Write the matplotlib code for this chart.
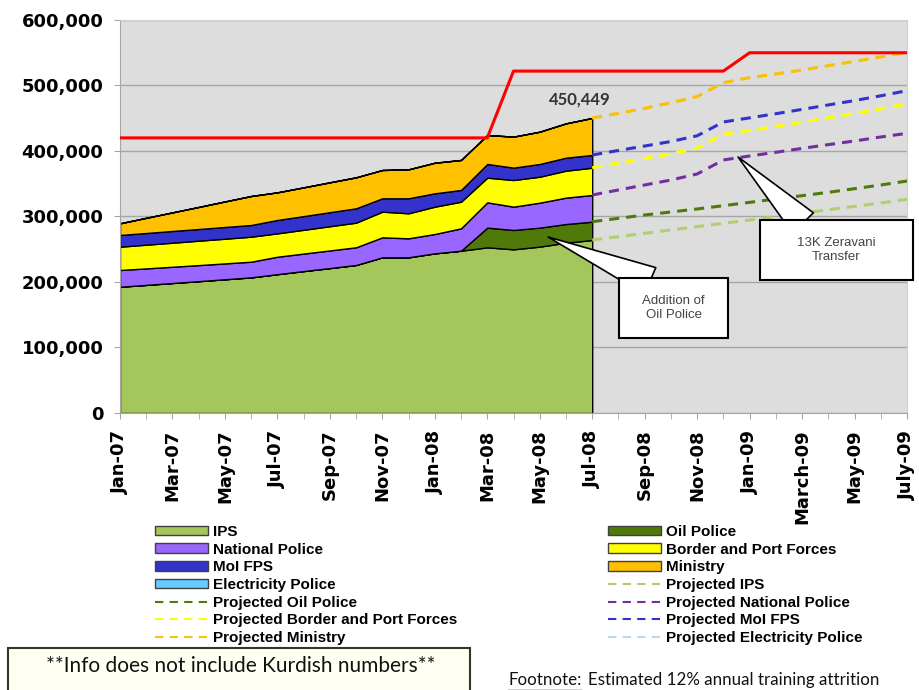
import numpy as np
import matplotlib
matplotlib.use("Agg")
import matplotlib.pyplot as plt
from matplotlib.lines import Line2D
from matplotlib.patches import Patch, Rectangle
from matplotlib.ticker import FuncFormatter

W, H = 919, 690

# monthly axis: Jan-07 (0) .. Jul-09 (30), labels every second month
tick_labels = ["Jan-07", "Mar-07", "May-07", "Jul-07", "Sep-07", "Nov-07",
               "Jan-08", "Mar-08", "May-08", "Jul-08", "Sep-08", "Nov-08",
               "Jan-09", "March-09", "May-09", "July-09"]

# actual force levels, Jan-07 .. Jul-08
ips = [192800, 195600, 198500, 201300, 204200, 207100, 212000, 216700, 221300, 226000,
       237700, 237700, 243800, 247800, 252900, 249900, 254000, 260000, 264100]
oil_police = [0, 0, 0, 0, 0, 0, 0, 0, 0, 0,
              0, 0, 0, 0, 30100, 29500, 29000, 28500, 28000]
national_police = [25500, 25200, 24800, 24500, 24200, 23900, 26600, 26700, 26900, 27000,
                   30500, 29000, 29500, 34100, 38600, 35600, 38100, 40300, 40700]
border_port = [35600, 36200, 36700, 37300, 37700, 38200, 35700, 36300, 37000, 37600,
               39200, 38200, 41700, 40700, 37700, 40700, 39700, 41200, 41700]
moi_fps = [17900, 17800, 17900, 17800, 17900, 17800, 20400, 20900, 21400, 21900,
           20400, 22900, 20400, 17900, 20900, 18900, 19400, 19800, 19400]
ministry = [17800, 23200, 28400, 33700, 39000, 44300, 42200, 43900, 45600, 47300,
            43200, 44200, 46700, 45800, 44200, 47300, 49300, 52400, 56549]
electricity_police = [0, 0, 0, 0, 0, 0, 0, 0, 0, 0,
                      0, 0, 0, 0, 0, 0, 0, 0, 0]

# projections, Aug-08 .. Jul-09 (continue on from the Jul-08 actuals)
proj_ips = [269200, 274300, 279400, 284500, 289600, 294700, 299700, 304800, 310400, 315500, 320600, 326200]
proj_oil_police = [28000, 28000, 27500, 27000, 26900, 26900, 27000, 27000, 26500, 27000, 27500, 28000]
proj_national_police = [43300, 45800, 48800, 53400, 69800, 70800, 71300, 72200, 72800, 72800, 73300, 72800]
proj_border_port = [41000, 40500, 40000, 39500, 39000, 39000, 39500, 40000, 41000, 42000, 43000, 44800]
proj_moi_fps = [19300, 19000, 18800, 18800, 19000, 19200, 19400, 19500, 19600, 19700, 19900, 20300]
proj_ministry = [56700, 57500, 59300, 59800, 60000, 61400, 60700, 60200, 60000, 59900, 59200, 58500]
proj_electricity_police = [0, 0, 0, 0, 0, 0, 0, 0, 0, 0, 0, 0]

# authorized end strength, Jan-07 .. Jul-09
authorized = [420000, 420000, 420000, 420000, 420000, 420000, 420000, 420000,
              420000, 420000, 420000, 420000, 420000, 420000, 420000,
              522000, 522000, 522000, 522000, 522000, 522000, 522000, 522000, 522000,
              550000, 550000, 550000, 550000, 550000, 550000, 550000]

names = ["IPS", "Oil Police", "National Police", "Border and Port Forces",
         "MoI FPS", "Ministry", "Electricity Police"]
area_colors = ["#a5c65a", "#4f7a0a", "#9966ff", "#ffff00", "#3333cc", "#ffc000", "#66ccff"]
proj_colors = ["#b0d070", "#4f7a0a", "#7030a0", "#ffff00", "#3333cc", "#ffc000", "#b7dee8"]

actual = [ips, oil_police, national_police, border_port, moi_fps, ministry, electricity_police]
projected = [proj_ips, proj_oil_police, proj_national_police, proj_border_port,
             proj_moi_fps, proj_ministry, proj_electricity_police]


def fig_xy(x, y):
    """pixel position measured from the top-left corner -> figure fraction"""
    return x / W, 1 - y / H


fig = plt.figure(figsize=(W / 100, H / 100), dpi=100)
ax = fig.add_axes([120 / W, 1 - 413 / H, 787 / W, 393 / H])
ax.set_facecolor("#dddddd")

x_act = np.arange(len(ips))
x_proj = np.arange(len(ips) - 1, len(ips) + len(proj_ips))

ax.stackplot(x_act, *actual, colors=area_colors, edgecolor="black", linewidth=1.0, zorder=2)

# projected lines are stacked on top of each other like the areas
proj_full = np.array([[a[-1]] + p for a, p in zip(actual, projected)], dtype=float)
proj_tops = np.cumsum(proj_full, axis=0)
dash = (0, (3.3, 2.3))
for i in [6, 0, 1, 2, 3, 4, 5]:
    ax.plot(x_proj, proj_tops[i], color=proj_colors[i], lw=2.2, ls=dash, zorder=3)

x_all = np.arange(len(authorized))
ax.plot(x_all, authorized, color="#ff0000", lw=2.2, zorder=4)

total = int(sum(a[-1] for a in actual))
ax.annotate(f"{total:,}", xy=(x_act[-1], total), xytext=(-8.6, 13), textcoords="offset points",
            ha="center", va="center", fontsize=12, fontweight="bold",
            family=["Lato", "DejaVu Sans"], color="#333333", zorder=6)

ax.set_xlim(0, 30)
ax.set_ylim(0, 600000)
ax.set_xticks(np.arange(0, 31, 2))
ax.set_xticks(np.arange(0, 31), minor=True)
ax.set_xticklabels(tick_labels, rotation=90, fontsize=13, fontweight="bold")
ax.set_yticks(np.arange(0, 600001, 100000))
ax.yaxis.set_major_formatter(FuncFormatter(lambda v, _: f"{int(v):,}"))
for lab in ax.get_yticklabels():
    lab.set_fontweight("bold")
    lab.set_fontsize(13)
ax.tick_params(axis="x", which="both", direction="out", length=4, color="#a6a6a6", pad=8)
ax.tick_params(axis="y", direction="out", length=4, color="#a6a6a6", pad=8)
ax.yaxis.grid(True, color="#a6a6a6", linewidth=1.0)
ax.set_axisbelow(True)
for side in ["left", "bottom"]:
    ax.spines[side].set_color("#a6a6a6")
for side in ["top", "right"]:
    ax.spines[side].set_color("#d0d0d0")


def callout(text, tip, box, base_x):
    """white text box with a wedge pointing at a spot in the data"""
    x0, y0, w, h = box
    bx, by = fig_xy(base_x, y0 + 3)
    ax.annotate("", xy=tip, xycoords="data", xytext=(bx, by), textcoords="figure fraction",
                arrowprops=dict(arrowstyle="wedge,tail_width=2.1", mutation_scale=10,
                                fc="white", ec="black", lw=1.2, shrinkA=0, shrinkB=0),
                zorder=7, annotation_clip=False)
    fig.add_artist(Rectangle(fig_xy(x0, y0 + h), w / W, h / H, transform=fig.transFigure,
                             fc="white", ec="black", lw=1.5, zorder=8))
    cx, cy = fig_xy(x0 + w / 2, y0 + h / 2)
    fig.text(cx, cy, text, ha="center", va="center", fontsize=9.5, color="#444444",
             family=["Liberation Sans", "DejaVu Sans"], linespacing=1.25, zorder=9)


callout("Addition of\nOil Police", (16.32, 268700), (619, 278, 109, 60), 650)
callout("13K Zeravani\nTransfer", (23.56, 390800), (760, 220, 153, 60), 803)

# legend: two columns laid out row by row
legend_font = dict(family=["Liberation Sans Narrow", "Liberation Sans"], weight="bold", size=11)
area_handles = [Patch(facecolor=c, edgecolor="#404040", lw=1.0) for c in area_colors]
proj_handles = [Line2D([], [], color=c, lw=1.5, ls=(0, (4, 3))) for c in proj_colors]
all_handles = area_handles + proj_handles
all_labels = names + ["Projected " + n for n in names]
left = [(h, l) for k, (h, l) in enumerate(zip(all_handles, all_labels)) if k % 2 == 0]
right = [(h, l) for k, (h, l) in enumerate(zip(all_handles, all_labels)) if k % 2 == 1]
for items, x in [(left, 155), (right, 608)]:
    hs, ls = zip(*items)
    fig.legend(hs, ls, loc="upper left", bbox_to_anchor=fig_xy(x, 525), frameon=False,
               borderpad=0, borderaxespad=0, handlelength=3.5, handleheight=0.6,
               handletextpad=0.3, labelspacing=0.24, prop=legend_font)

# note box and footnote along the bottom edge
fig.add_artist(Rectangle(fig_xy(8, 700), 462 / W, 52 / H, transform=fig.transFigure,
                         fc="#fffff2", ec="#333333", lw=1.5, zorder=8))
fig.text(*fig_xy(241, 666), "**Info does not include Kurdish numbers**", ha="center",
         va="center", fontsize=15, family=["Lato", "DejaVu Sans"], color="#111111", zorder=9)

foot_font = dict(fontsize=12.2, family=["Lato", "DejaVu Sans"], color="#111111")
head = fig.text(*fig_xy(508, 685), "Footnote:", ha="left", va="baseline", **foot_font)
fig.canvas.draw()
bb = head.get_window_extent()
x_end = bb.x1 / W
y_line = bb.y0 / H - 2 / H
fig.add_artist(Line2D([508 / W, x_end], [y_line, y_line], transform=fig.transFigure,
                      color="#111111", lw=1.0))
fig.text(x_end + 7 / W, 1 - 685 / H, "Estimated 12% annual training attrition",
         ha="left", va="baseline", **foot_font)

fig.savefig("out.png", dpi=100)
